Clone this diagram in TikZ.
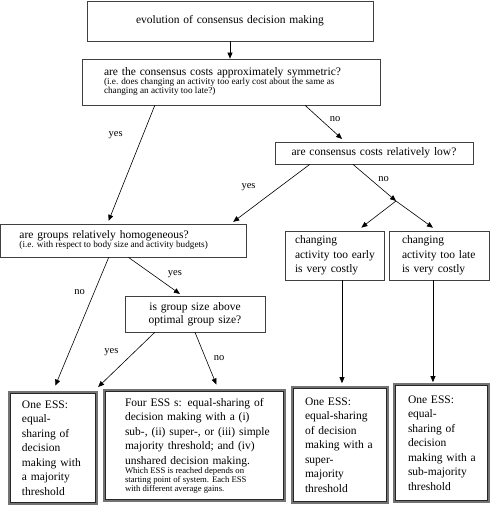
\documentclass[tikz,border=0pt]{standalone}
\usepackage{fontspec}
\setmainfont{Liberation Serif}
\usetikzlibrary{arrows.meta,calc}
\newcommand{\qnote}{\fontsize{9.2}{9}\selectfont\spaceskip=0pt\xspaceskip=0pt\relax}
\newcommand{\essnote}{\fontsize{8.7}{9}\selectfont\spaceskip=0pt\xspaceskip=0pt\relax}
\tikzset{
  box/.style={draw=black!75, line width=0.7pt, inner sep=0pt, align=left,
    font=\fontsize{11.5}{14.5}\selectfont},
  essbox/.style={box, draw=black!55, line width=1.7pt},
  essinner/.style={draw=black!85, line width=0.6pt},
  lm/.style={execute at begin node={\leftskip=#1pt\relax}},
  arr/.style={-{Triangle[length=6pt,width=5pt]}, line width=0.6pt},
  lbl/.style={font=\fontsize{10.5}{12}\selectfont, inner sep=0pt}
}
\begin{document}
\begin{tikzpicture}[x=1pt, y=-1pt]
  \useasboundingbox (0,0) rectangle (490,506);
  % questions
  \node[box, align=center, text width=286pt, minimum height=40] (evo) at (230,21) {evolution of consensus decision making};
  \node[box, lm=22, text width=298pt, minimum height=46] (sym) at (231,82)
    {are the consensus costs approximately symmetric?\par\qnote (i.e. does changing an activity too early cost about the same as\\ changing an activity too late?)\par};
  \node[box, align=center, text width=198pt, minimum height=22] (low) at (374,153) {are consensus costs relatively low?};
  \node[box, lm=19, text width=246pt, minimum height=33] (hom) at (123.5,240.5)
    {are groups relatively homogeneous?\par\qnote (i.e. with respect to body size and activity budgets)\par};
  \node[box, lm=10, text width=99pt, minimum height=49] (early) at (334.5,255.5) {changing\\ activity too early\\ is very costly};
  \node[box, lm=13, text width=100pt, minimum height=49] (late) at (439,255.5) {changing\\ activity too late\\ is very costly};
  \node[box, align=center, text width=140pt, minimum height=36] (gsize) at (195,314) {is group size above\\[-1.5pt] optimal group size?};
  % outcomes
  \node[essbox, lm=13, text width=88pt, minimum height=112] (maj) at (53,448)
    {One ESS:\\ equal-\\ sharing of\\ decision\\ making with\\ a majority\\ threshold};
  \node[essbox, lm=21, text width=181pt, minimum height=111] (four) at (194.5,445.5)
    {Four ESS s: equal-sharing of\\ decision making with a (i)\\ sub-, (ii) super-, or (iii) simple\\ majority threshold; and (iv)\\ unshared decision making.\par
     \essnote Which ESS is reached depends on\\ starting point of system. Each ESS\\ with different average gains.\par};
  \node[essbox, lm=13, text width=96pt, minimum height=116] (super) at (340,445)
    {One ESS:\\ equal-sharing\\ of decision\\ making with a\\ super-\\ majority\\ threshold};
  \node[essbox, lm=14, text width=95pt, minimum height=118] (sub) at (441.5,443)
    {One ESS:\\ equal-\\ sharing of\\ decision\\ making with a\\ sub-majority\\ threshold};
  % inner frames
  \foreach \n in {maj,four,super,sub}
    \draw[essinner] ($(\n.north west)+(2.4,2.4)$) rectangle ($(\n.south east)+(-2.4,-2.4)$);
  % connectors
  \coordinate (split) at (396,201);
  \coordinate (e1) at ($(early.south west)!.575!(early.south east)$);
  \coordinate (e2) at ($(late.south west)!.44!(late.south east)$);
  \draw[arr] (evo.south) -- (evo.south |- sym.north);
  \draw[arr, shorten >=3pt] ($(sym.south west)!.245!(sym.south east)$) -- node[lbl, pos=.25, left=20pt] (yes1) {yes} ($(hom.north west)!.435!(hom.north east)$);
  \draw[arr, shorten >=4pt] ($(sym.south west)!.748!(sym.south east)$) -- node[lbl, pos=.39, right=9pt] (no1) {no} ($(low.north west)!.354!(low.north east)$);
  \draw[arr, shorten >=3pt] ($(low.south west)!.177!(low.south east)$) -- node[lbl, pos=.38, left=24pt] (yes2) {yes} ($(hom.north west)!.935!(hom.north east)$);
  \draw[arr] ($(low.south west)!.394!(low.south east)$) -- node[lbl, pos=.4, right=8pt] (no2) {no} (split);
  \draw[arr, shorten >=5pt] (split) -- ($(early.north west)!.73!(early.north east)$);
  \draw[arr, shorten >=5pt] (split) -- ($(late.north west)!.48!(late.north east)$);
  \draw[arr, shorten >=3pt] ($(hom.south west)!.52!(hom.south east)$) -- node[lbl, pos=.45, right=15pt] (yes3) {yes} ($(gsize.north west)!.41!(gsize.north east)$);
  \draw[arr, shorten >=6pt] ($(hom.south west)!.44!(hom.south east)$) -- node[lbl, pos=.26, left=9pt] (no3) {no} (maj.north);
  \draw[arr, shorten >=6pt] ($(gsize.south west)!.214!(gsize.south east)$) -- node[lbl, pos=.33, left=16pt] (yes4) {yes} ($(maj.north west)!.955!(maj.north east)$);
  \draw[arr, shorten >=5pt] (gsize.south) -- node[lbl, pos=.45, right=8pt] (no4) {no} ($(four.north west)!.63!(four.north east)$);
  \draw[arr, shorten >=3pt] (e1) -- (e1 |- super.north);
  \draw[arr, shorten >=1pt] (e2) -- (e2 |- sub.north);
\end{tikzpicture}
\end{document}
